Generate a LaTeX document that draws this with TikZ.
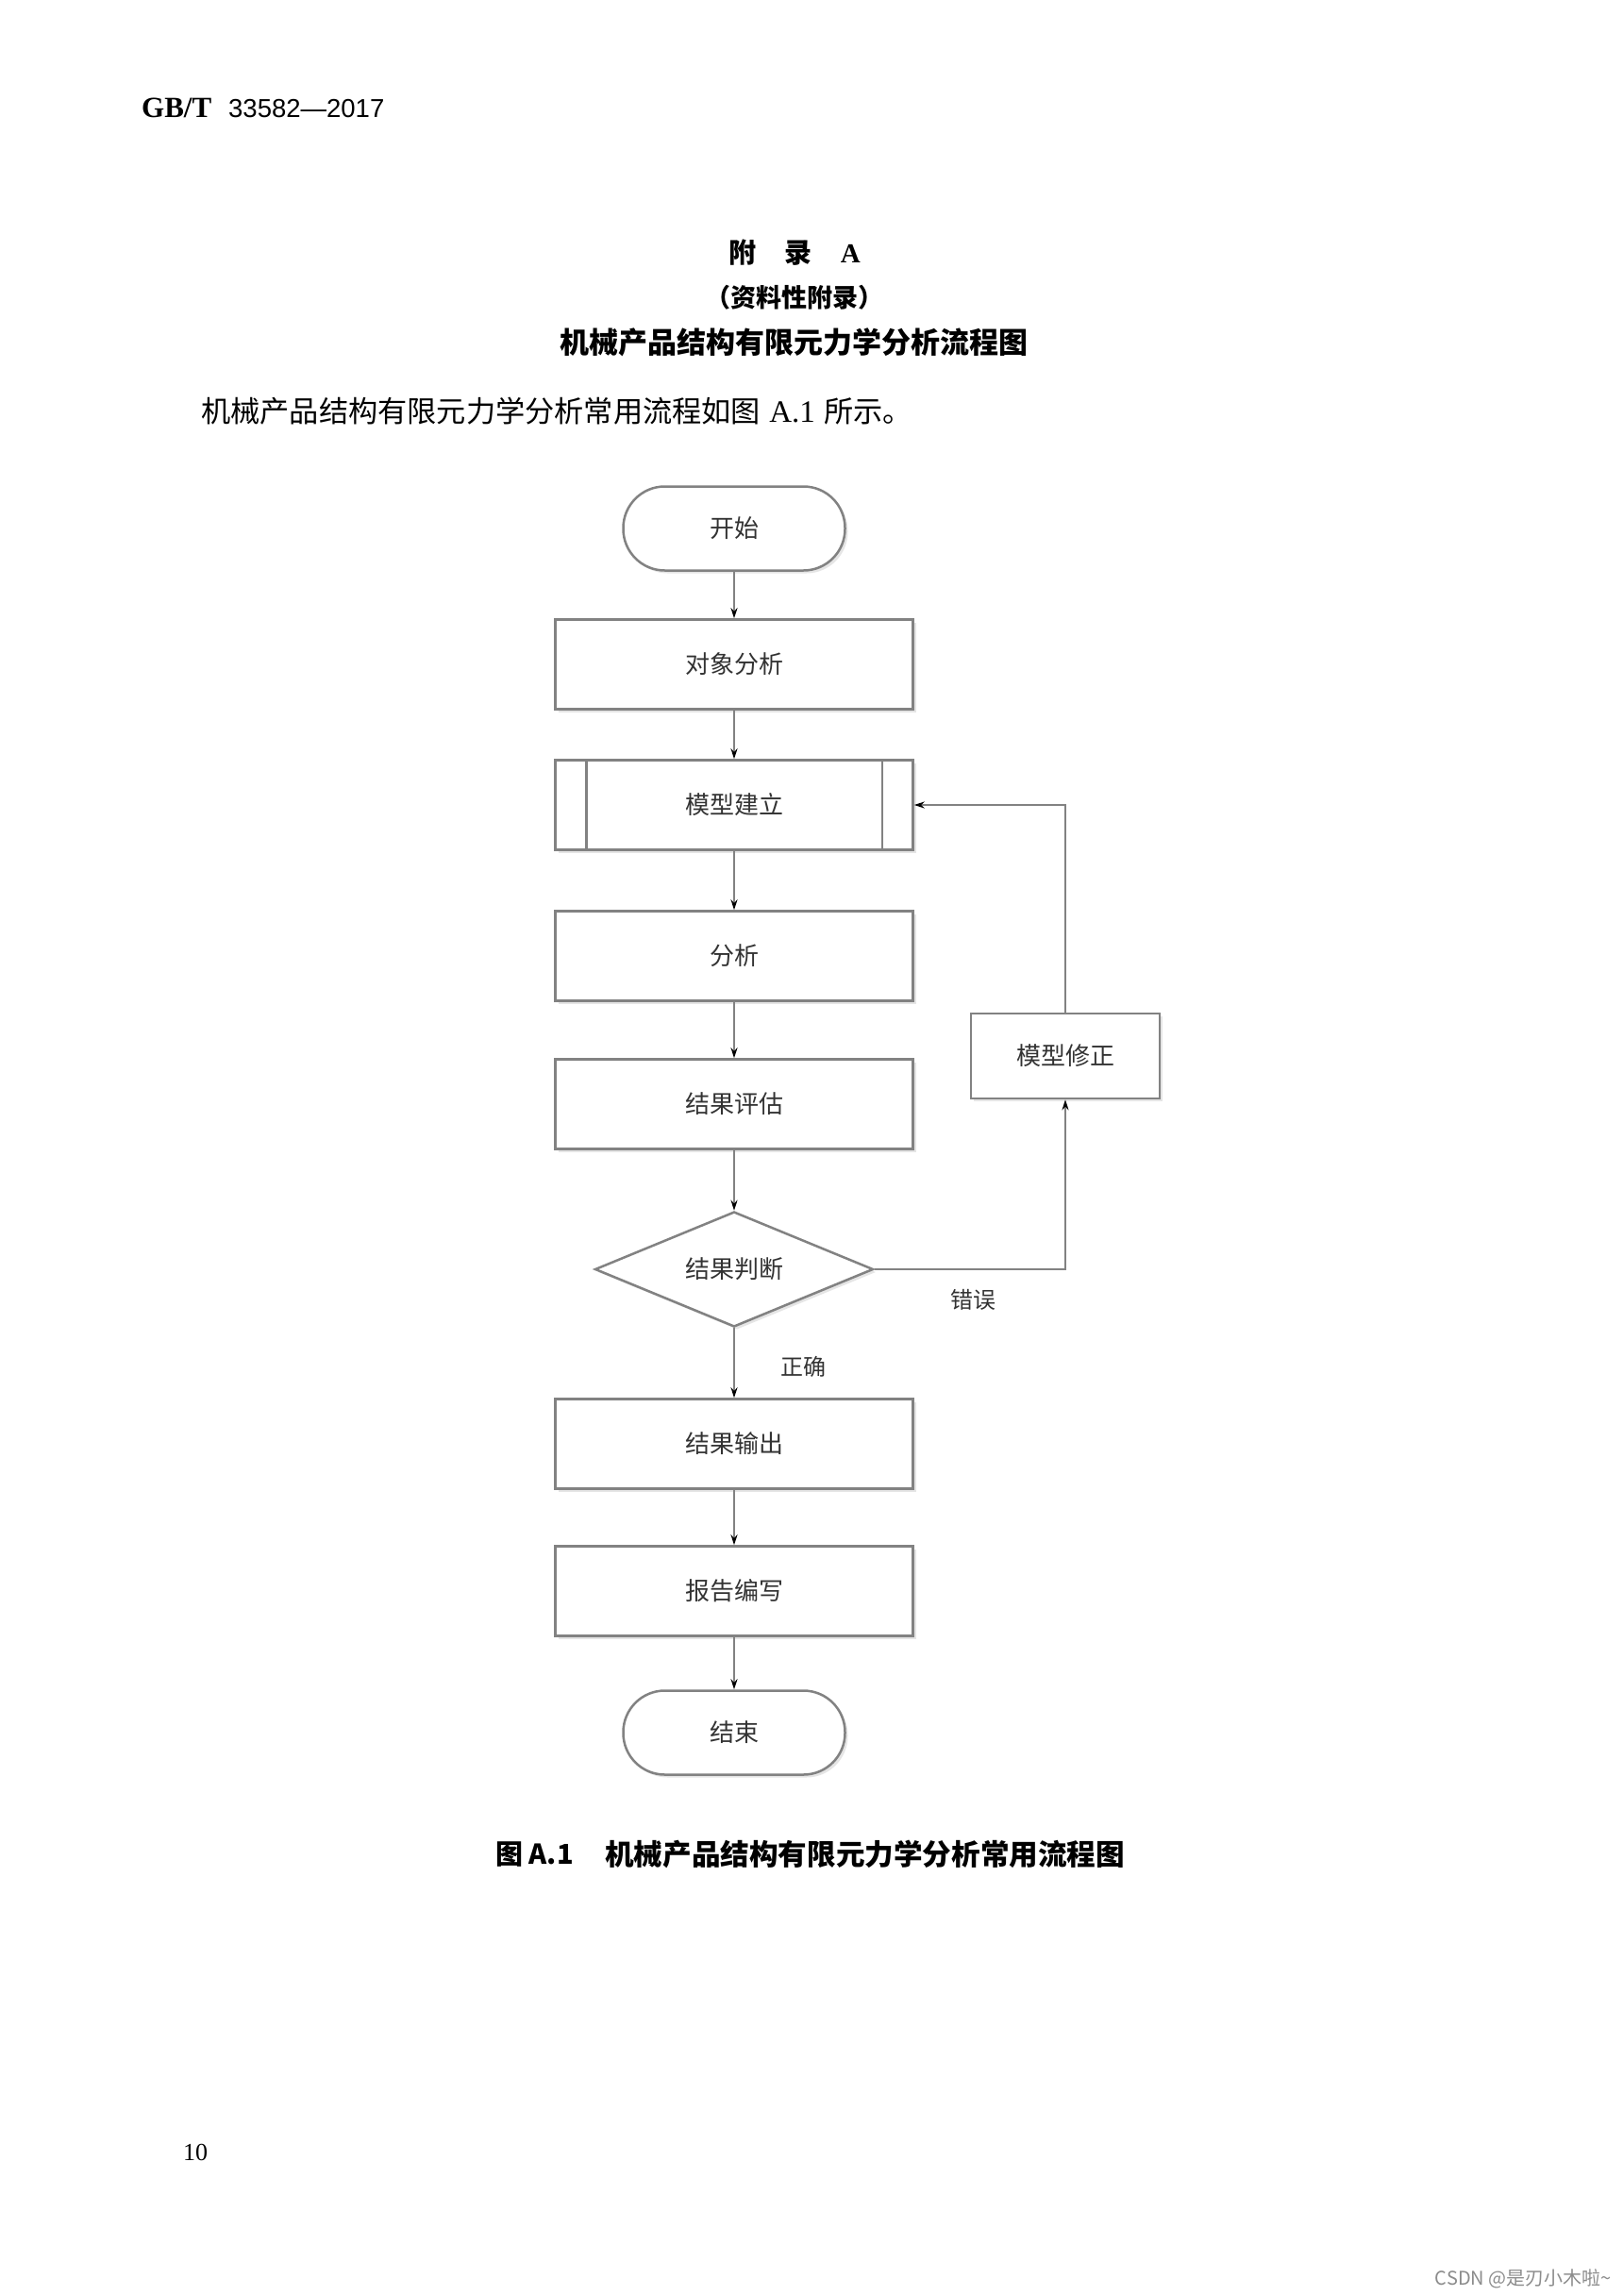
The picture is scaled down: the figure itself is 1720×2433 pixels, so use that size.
\documentclass[tikz,border=0pt]{standalone}
\usepackage{fontspec}
\setmainfont{Liberation Serif}
\newfontfamily\cjk{Noto Sans CJK SC}
\newfontfamily\hsans{Liberation Sans}
\usetikzlibrary{shapes.geometric,shadows,arrows.meta}
\definecolor{edge}{HTML}{828282}
\definecolor{ink}{HTML}{333333}
\tikzset{
  boxbase/.style={draw=edge, line width=2.5pt, fill=white, text=ink,
    font=\cjk\fontsize{26}{30}\selectfont, inner sep=0pt,
    drop shadow={shadow xshift=3pt, shadow yshift=-3pt, fill=black!20}},
  proc/.style={boxbase, rectangle, minimum width=379pt, minimum height=95pt},
  term/.style={boxbase, rectangle, rounded corners=44pt, minimum width=235pt, minimum height=89pt},
  decide/.style={boxbase, diamond, aspect=2.4, minimum width=295pt, minimum height=122pt},
  flow/.style={draw=edge, line width=2pt, -{Stealth[length=11pt,width=7pt,color=black]}},
  lbl/.style={text=ink, font=\cjk\fontsize{24}{28}\selectfont, inner sep=0pt},
  pagetext/.style={inner sep=0pt, text=black},
}
\begin{document}
\begin{tikzpicture}[x=1pt,y=-1pt]
\useasboundingbox (0,0) rectangle (1720,2433);
\fill[white] (0,0) rectangle (1720,2433);

% header
\node[pagetext, anchor=base west, font=\bfseries\fontsize{31}{31}\selectfont] (hdra) at (150,124) {GB/T};
\node[pagetext, anchor=base west, font=\hsans\fontsize{27.5}{30}\selectfont] (hdrb) at (242,124) {33582—2017};

% titles
\node[pagetext, font=\cjk\bfseries\fontsize{29}{32}\selectfont] (appx) at (842,268) {附\hspace{1.05em}录\hspace{1.05em}{\rmfamily\bfseries A}};
\node[pagetext, font=\cjk\bfseries\fontsize{27}{30}\selectfont] (info) at (842,315) {（资料性附录）};
\node[pagetext, font=\cjk\bfseries\fontsize{31}{34}\selectfont] (title) at (841,363) {机械产品结构有限元力学分析流程图};

% paragraph
\node[pagetext, anchor=west, font=\cjk\fontsize{31.2}{34}\selectfont] (para) at (213,436) {机械产品结构有限元力学分析常用流程如图\hspace{0.3em}{\rmfamily\fontsize{33}{34}\selectfont A.1}\hspace{0.3em}所示。};

% flowchart
\node[term] (start) at (778,560) {开始};
\node[proc] (obj) at (778,704) {对象分析};
\node[proc] (model) at (778,853) {模型建立};
\draw[draw=edge, line width=2.5pt] ([xshift=34pt]model.north west) -- ([xshift=34pt]model.south west);
\draw[draw=edge, line width=2.5pt] ([xshift=-34pt]model.north east) -- ([xshift=-34pt]model.south east);
\node[proc] (ana) at (778,1013) {分析};
\node[proc] (eval) at (778,1170) {结果评估};
\node[decide] (judge) at (778,1345) {结果判断};
\node[proc] (out) at (778,1530) {结果输出};
\node[proc] (rep) at (778,1686) {报告编写};
\node[term] (end) at (778,1836) {结束};
\node[proc, minimum width=200pt, minimum height=90pt] (fix) at (1129,1119) {模型修正};

\draw[flow] (start) -- (obj);
\draw[flow] (obj) -- (model);
\draw[flow] (model) -- (ana);
\draw[flow] (ana) -- (eval);
\draw[flow] (eval) -- (judge);
\draw[flow] (judge) -- (out);
\draw[flow] (out) -- (rep);
\draw[flow] (rep) -- (end);
\draw[flow] (judge.east) -| (fix.south);
\draw[flow] (fix.north) |- (model.east);

\node[lbl] (err) at (1031,1377) {错误};
\node[lbl] (ok) at (851,1448) {正确};

% caption
\node[pagetext, anchor=west, font=\cjk\bfseries\fontsize{29}{32}\selectfont] (capa) at (525,1965) {图 A.1};
\node[pagetext, anchor=west, font=\cjk\bfseries\fontsize{30.6}{32}\selectfont] (capb) at (641,1965) {机械产品结构有限元力学分析常用流程图};

% page number and watermark
\node[pagetext, font=\fontsize{26}{28}\selectfont] (pnum) at (207,2281) {10};
\node[pagetext, anchor=east, text=black!45, font=\cjk\fontsize{20}{22}\selectfont] (mark) at (1708,2415) {CSDN @是刃小木啦\textasciitilde};
\end{tikzpicture}
\end{document}
